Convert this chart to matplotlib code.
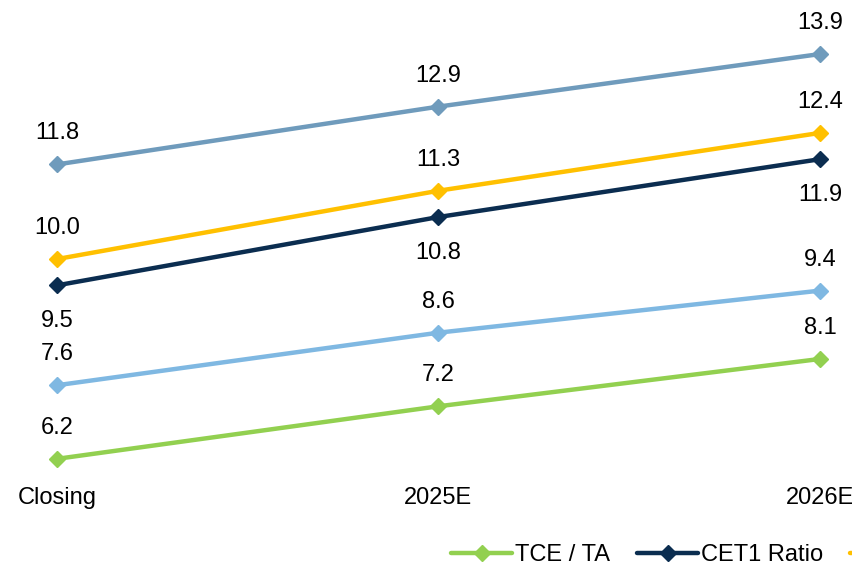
import matplotlib.pyplot as plt

plt.rcParams['font.family'] = ['Liberation Sans', 'DejaVu Sans']

periods = ['Closing', '2025E', '2026E']

tce_ta = [6.2, 7.2, 8.1]
cet1 = [9.5, 10.8, 11.9]
tier1 = [10.0, 11.3, 12.4]
leverage = [7.6, 8.6, 9.4]
total_capital = [11.8, 12.9, 13.9]

# (values, label, colour, label above the point?)
series = [
    (tce_ta, 'TCE / TA', '#92D050', True),
    (cet1, 'CET1 Ratio', '#0B2D50', False),
    (tier1, 'Tier 1 Ratio', '#FFC000', True),
    (leverage, 'Leverage Ratio', '#7FB8E2', True),
    (total_capital, 'Total Capital Ratio', '#6F9BBC', True),
]

fig = plt.figure(figsize=(8.53, 5.68), dpi=100)
ax = fig.add_axes([57 / 853, 85.5 / 568, (820 - 57) / 853, 460 / 568])

x = list(range(len(periods)))
for values, label, color, above in series:
    ax.plot(x, values, color=color, lw=3.2, marker='D', ms=8.5,
            solid_capstyle='round', label=label, clip_on=False)
    for xi, v in zip(x, values):
        dy = 31 if above else -36
        ax.annotate(f'{v:.1f}', (xi, v), xytext=(0, dy), textcoords='offset pixels',
                    ha='center', va='center', fontsize=17, color='black')

ax.set_xlim(0, 2)
ax.set_ylim(5.75, 14.5)
ax.set_xticks(x)
ax.set_xticklabels(periods, fontsize=17)
ax.tick_params(axis='x', length=0, pad=3)
ax.set_yticks([])
for side in ax.spines.values():
    side.set_visible(False)

fig.legend(loc='center left', bbox_to_anchor=(451 / 853, 1 - 555 / 568), ncol=5,
           frameon=False, fontsize=17, handlelength=2.6, handletextpad=0.1,
           columnspacing=1.15, borderaxespad=0, borderpad=0)

fig.savefig('out.png', dpi=100)
